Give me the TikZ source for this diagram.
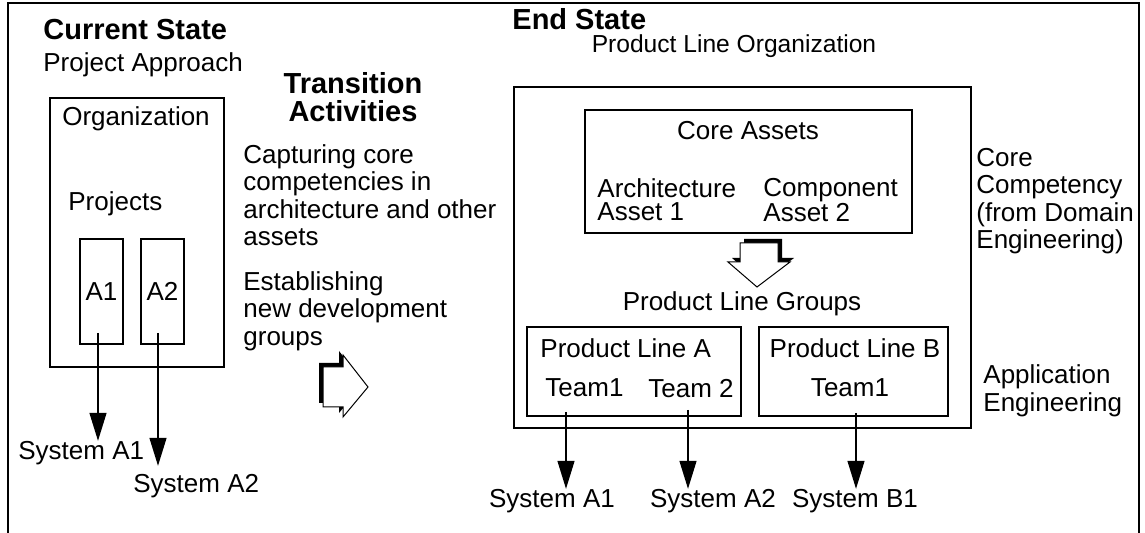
\documentclass[tikz,border=0pt]{standalone}
\usepackage{fontspec}
\setmainfont{Liberation Sans}
\usetikzlibrary{arrows.meta, positioning}

\begin{document}
\begin{tikzpicture}[x=0.5pt, y=-0.5pt,
  every node/.style={font=\fontsize{13}{13.75}\selectfont, inner sep=0pt},
  headtxt/.style  = {font=\fontsize{14.5}{13.75}\selectfont\bfseries, align=center},
  txt/.style      = {align=left},
  tighttxt/.style = {align=left, font=\fontsize{13}{11.5}\selectfont},
  box/.style      = {rectangle, draw=black, line width=0.6pt, inner sep=0pt},
  arrow/.style    = {-{Triangle[length=14pt, width=8.5pt]}, line width=0.65pt},
  blockarr/.style = {draw=black, fill=white, line width=0.5pt}
]
\useasboundingbox (0,0) rectangle (1145,533);
\draw[line width=0.6pt] (8,533) -- (8,3) -- (1139,3) -- (1139,533);

%% CURRENT STATE
\node[headtxt, anchor=west] (cur)    at (43,30)  {Current State};
\node[anchor=west]          (curapp) at (43,65)  {Project Approach};
\node[box, minimum width=87pt, minimum height=134.5pt] (org) at (137,232.5) {};
\node                       (orgl)   at (136,119) {Organization};
\node[anchor=west]          (proj)   at (68,204) {Projects};
\node[box, minimum width=21.5pt, minimum height=52.5pt] (pA1) at (101.5,291.5) {A1};
\node[box, minimum width=21.5pt, minimum height=52.5pt] (pA2) at (162.5,291.5) {A2};
\node[anchor=west]          (sysA1)  at (18,453)  {System A1};
\node[anchor=west]          (sysA2)  at (133,486) {System A2};

\coordinate (a1s) at (98,333);
\coordinate (a2s) at (158,333);
\draw[arrow] (a1s) -- (a1s |- sysA1.north);
\draw[arrow] (a2s) -- ([yshift=4pt]a2s |- sysA2.north);

%% TRANSITION
\node[headtxt] (trans) at (353,97) {Transition\\Activities};
\node[txt, anchor=north west] (capt)  at (243,144) {Capturing core\\competencies in\\architecture and other\\assets};
\node[txt, anchor=north west] (estab) at (243,271) {Establishing\\new development\\groups};

\fill[shift={(-4,-4)}] (323,367) -- (343,367) -- (343,355) -- (368,387) -- (343,417) -- (343,407) -- (323,407) -- cycle;
\draw[blockarr] (323,367) -- (343,367) -- (343,355) -- (368,387) -- (343,417) -- (343,407) -- (323,407) -- cycle;

%% END STATE
\node[headtxt, anchor=west] (endst) at (512,19) {End State};
\node[font=\fontsize{12.3}{13}\selectfont] (plorg) at (734,46) {Product Line Organization};
\node[box, minimum width=228.5pt, minimum height=170.5pt] (plo)  at (742.5,257.5) {};
\node[box, minimum width=163.5pt, minimum height=61.5pt]  (core) at (748.5,171.5) {};
\node (corel) at (748,131) {Core Assets};
\node[tighttxt, anchor=west] (arch) at (597,200) {Architecture\\Asset 1};
\node[tighttxt, anchor=west] (comp) at (763,200) {Component\\Asset 2};

\fill[shift={(4,-4)}] (740,243) -- (778,243) -- (778,262) -- (790,262) -- (757,287) -- (728,262) -- (740,262) -- cycle;
\draw[blockarr] (740,243) -- (778,243) -- (778,262) -- (790,262) -- (757,287) -- (728,262) -- (740,262) -- cycle;

\node (plg) at (742,304) {Product Line Groups};
\node[box, minimum width=107pt,  minimum height=44.5pt] (plA) at (634,371.5) {};
\node[box, minimum width=94.5pt, minimum height=44.5pt] (plB) at (853.5,371.5) {};
\node[anchor=west] (plAl) at (540,348) {Product Line A};
\node[anchor=west] (tA1)  at (545,388) {Team1};
\node[anchor=west] (tA2)  at (648,389) {Team 2};
\node              (plBl) at (855,348) {Product Line B};
\node              (tB1)  at (850,388) {Team1};

\node (sysA1b) at (552,501) {System A1};
\node (sysA2b) at (713,501) {System A2};
\node (sysB1)  at (855,501) {System B1};

\coordinate (a3s) at (566,412);
\coordinate (a4s) at (688,410);
\coordinate (a5s) at (856,413);
\draw[arrow] (a3s) -- (a3s |- sysA1b.north);
\draw[arrow] (a4s) -- (a4s |- sysA2b.north);
\draw[arrow] (a5s) -- (a5s |- sysB1.north);

%% side labels
\node[txt, anchor=west] (corecomp) at (976,201) {Core\\Competency\\(from Domain\\Engineering)};
\node[txt, anchor=west] (appeng)   at (983,391) {Application\\Engineering};
\end{tikzpicture}
\end{document}
